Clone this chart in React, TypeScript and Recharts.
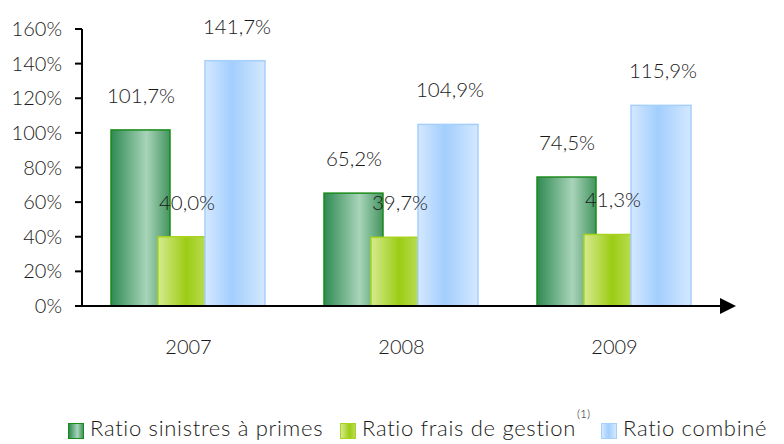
import { BarChart, Bar, XAxis, YAxis, LabelList } from 'recharts';

const years = ['2007', '2008', '2009'];
const sinistres = [101.7, 65.2, 74.5];
const frais = [40.0, 39.7, 41.3];
const combine = [141.7, 104.9, 115.9];
const yTicks = [0, 20, 40, 60, 80, 100, 120, 140, 160];

const seriesNames = ['Ratio sinistres à primes', 'Ratio frais de gestion', 'Ratio combiné'];

const data = years.map((year, i) => ({
  year,
  sinistres: sinistres[i],
  frais: frais[i],
  combine: combine[i],
}));

const FONT = 'Lato, "Open Sans", sans-serif';

const formatPct = (v: number) => `${v.toFixed(1).replace('.', ',')}%`;

// bars in the original are not all the same width, nudge them a bit
const makeShape = (dx: number, dw: number, fill: string, stroke: string) => (props: any) => (
  <rect
    x={props.x + dx}
    y={props.y}
    width={props.width + dw}
    height={props.height}
    fill={fill}
    stroke={stroke}
    strokeWidth={1.5}
  />
);

const legendItems = [
  { name: seriesNames[0], left: 68, bg: 'linear-gradient(to right, #2f8a52, #a8d4ba 60%, #44955f)', border: '#1a8a1a' },
  { name: seriesNames[1], left: 340, bg: 'linear-gradient(to right, #d6ea90, #9ccc14 60%, #b8dc50)', border: '#a8d420', sup: '(1)' },
  { name: seriesNames[2], left: 601, bg: 'linear-gradient(to right, #d4e8ff, #a2cefd 45%, #d4e8ff)', border: '#a6cffc' },
];

export default function App() {
  return (
    <div style={{ position: 'relative', width: 784, height: 444, background: '#fff' }}>
      <style>{'body{margin:0}'}</style>
      <BarChart
        width={784}
        height={444}
        data={data}
        margin={{ top: 29, right: 63, left: 0, bottom: 0 }}
        barSize={52}
        barGap={0}
      >
        <defs>
          <linearGradient id="gGreen" x1="0" y1="0" x2="1" y2="0">
            <stop offset="0%" stopColor="#2f8a52" />
            <stop offset="60%" stopColor="#a8d4ba" />
            <stop offset="100%" stopColor="#44955f" />
          </linearGradient>
          <linearGradient id="gLime" x1="0" y1="0" x2="1" y2="0">
            <stop offset="0%" stopColor="#d6ea90" />
            <stop offset="60%" stopColor="#9ccc14" />
            <stop offset="100%" stopColor="#b8dc50" />
          </linearGradient>
          <linearGradient id="gBlue" x1="0" y1="0" x2="1" y2="0">
            <stop offset="0%" stopColor="#d4e8ff" />
            <stop offset="45%" stopColor="#a2cefd" />
            <stop offset="100%" stopColor="#d4e8ff" />
          </linearGradient>
        </defs>
        <XAxis
          dataKey="year"
          height={138}
          axisLine={{ stroke: '#000', strokeWidth: 2 }}
          tickLine={false}
          tickSize={6}
          tickMargin={28}
          tick={{ fill: '#1a1a1a', fontSize: 20, fontFamily: FONT, fontWeight: 300 }}
        />
        <YAxis
          width={82}
          domain={[0, 160]}
          ticks={yTicks}
          interval={0}
          tickFormatter={(v: number) => `${v}%`}
          axisLine={{ stroke: '#000', strokeWidth: 2 }}
          tickLine={{ stroke: '#000', strokeWidth: 2 }}
          tickSize={7}
          tickMargin={13}
          tick={{ fill: '#1a1a1a', fontSize: 20, fontFamily: FONT, fontWeight: 300 }}
        />
        <Bar dataKey="sinistres" name={seriesNames[0]} isAnimationActive={false} shape={makeShape(0, 7, 'url(#gGreen)', '#1a8a1a')}>
          <LabelList dataKey="sinistres" position="top" offset={27} dx={4} formatter={formatPct} fill="#1a1a1a" fontSize={20.5} fontFamily={FONT} fontWeight={300} />
        </Bar>
        <Bar dataKey="frais" name={seriesNames[1]} isAnimationActive={false} shape={makeShape(-5, -5, 'url(#gLime)', '#a8d420')}>
          <LabelList dataKey="frais" position="top" offset={27} dx={-2} formatter={formatPct} fill="#1a1a1a" fontSize={20.5} fontFamily={FONT} fontWeight={300} />
        </Bar>
        <Bar dataKey="combine" name={seriesNames[2]} isAnimationActive={false} shape={makeShape(-10, 8, 'url(#gBlue)', '#a6cffc')}>
          <LabelList dataKey="combine" position="top" offset={27} dx={-4} formatter={formatPct} fill="#1a1a1a" fontSize={20.5} fontFamily={FONT} fontWeight={300} />
        </Bar>
      </BarChart>
      <svg width={784} height={444} style={{ position: 'absolute', left: 0, top: 0, pointerEvents: 'none' }}>
        <polygon points="720,298 736,306 720,314" fill="#000" />
      </svg>
      {legendItems.map((item) => (
        <div
          key={item.name}
          style={{
            position: 'absolute',
            left: item.left,
            top: 414,
            display: 'flex',
            alignItems: 'center',
            fontFamily: FONT,
            fontSize: 22,
            fontWeight: 300,
            letterSpacing: 0.7,
            color: '#1a1a1a',
            whiteSpace: 'nowrap',
          }}
        >
          <span
            style={{
              display: 'inline-block',
              width: 14,
              height: 14,
              background: item.bg,
              border: `1.5px solid ${item.border}`,
              marginRight: 6,
              marginTop: 6,
            }}
          />
          <span>{item.name}</span>
          {item.sup && <span style={{ fontSize: 12, position: 'relative', top: -14, marginLeft: 1, letterSpacing: 0 }}>{item.sup}</span>}
        </div>
      ))}
    </div>
  );
}
